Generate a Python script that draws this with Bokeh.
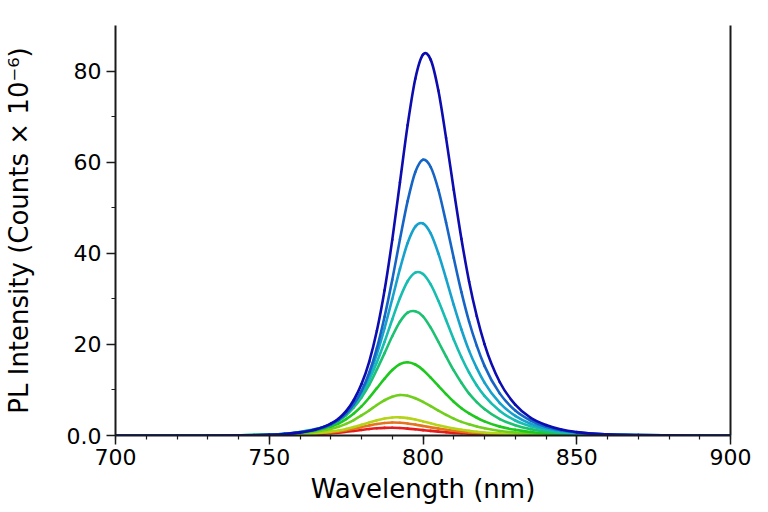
import numpy as np
from bokeh.plotting import figure
from bokeh.models import LinearAxis, FixedTicker, ColumnDataSource
from bokeh.embed import file_html
from bokeh.resources import INLINE

# Wavelength grid (nm) shared by all spectra
wavelength = [700, 720, 730, 740, 745, 750, 755, 760, 765, 770, 772.5, 775, 777.5,
              780, 782.5, 785, 787.5, 790, 792.5, 795, 797.5, 800, 802.5, 805, 807.5,
              810, 812.5, 815, 817.5, 820, 825, 830, 835, 840, 845, 850, 860, 870,
              880, 890, 900]

# PL intensity (counts x 1e-6), weakest to strongest spectrum
pl_red = [0, 0, 0, 0.015, 0.03, 0.05, 0.09, 0.17, 0.3, 0.5, 0.63, 0.81, 1.01,
          1.22, 1.42, 1.58, 1.68, 1.7, 1.64, 1.52, 1.36, 1.19, 1.01, 0.85, 0.71,
          0.58, 0.48, 0.39, 0.32, 0.26, 0.17, 0.11, 0.075, 0.05, 0.03, 0.02, 0.01, 0,
          0, 0, 0]
pl_orange = [0, 0, 0, 0.02, 0.04, 0.07, 0.13, 0.24, 0.42, 0.7, 0.9, 1.16, 1.48,
             1.84, 2.2, 2.52, 2.75, 2.85, 2.8, 2.64, 2.39, 2.1, 1.8, 1.51, 1.26,
             1.04, 0.85, 0.69, 0.56, 0.46, 0.3, 0.2, 0.13, 0.08, 0.055, 0.035, 0.015,
             0.01, 0, 0, 0]
pl_yellow = [0, 0, 0, 0.02, 0.05, 0.09, 0.16, 0.3, 0.5, 0.85, 1.1, 1.45, 1.87,
             2.35, 2.85, 3.33, 3.73, 3.96, 3.98, 3.82, 3.5, 3.1, 2.7, 2.25, 1.87,
             1.54, 1.26, 1.02, 0.83, 0.67, 0.43, 0.28, 0.18, 0.12, 0.08, 0.05, 0.02,
             0.01, 0, 0, 0]
pl_lime = [0, 0, 0.01, 0.03, 0.07, 0.13, 0.25, 0.48, 0.85, 1.45, 1.9, 2.55, 3.4,
           4.4, 5.5, 6.7, 7.75, 8.5, 8.9, 8.75, 8.2, 7.4, 6.45, 5.45, 4.55,
           3.7, 3.0, 2.45, 1.97, 1.6, 1.0, 0.65, 0.42, 0.27, 0.17, 0.11, 0.05,
           0.02, 0.01, 0, 0]
pl_green = [0, 0, 0.01, 0.04, 0.08, 0.16, 0.32, 0.62, 1.1, 1.95, 2.6, 3.6, 4.85,
            6.4, 8.3, 10.4, 12.5, 14.4, 15.7, 16.1, 15.6, 14.4, 12.7, 10.9, 9.1,
            7.4, 6.0, 4.85, 3.9, 3.1, 1.95, 1.25, 0.78, 0.49, 0.31, 0.19, 0.08,
            0.03, 0.01, 0, 0]
pl_spring = [0, 0, 0.01, 0.05, 0.09, 0.19, 0.38, 0.75, 1.35, 2.35, 3.2, 4.45, 6.15,
             8.35, 11.1, 14.5, 18.1, 21.8, 25.0, 27.0, 27.3, 26.2, 23.7, 20.6, 17.4,
             14.3, 11.6, 9.2, 7.35, 5.8, 3.6, 2.25, 1.4, 0.86, 0.53, 0.33, 0.13,
             0.05, 0.02, 0.01, 0]
pl_teal = [0, 0, 0.01, 0.05, 0.1, 0.2, 0.4, 0.78, 1.4, 2.5, 3.4, 4.75, 6.6,
           9.0, 12.2, 16.1, 20.6, 25.5, 30.2, 33.9, 35.8, 35.5, 33.2, 29.6, 25.4,
           21.1, 17.2, 13.8, 11.0, 8.7, 5.4, 3.3, 2.05, 1.26, 0.78, 0.48, 0.18,
           0.07, 0.03, 0.01, 0]
pl_cyan = [0, 0, 0.01, 0.04, 0.08, 0.17, 0.35, 0.72, 1.3, 2.45, 3.45, 4.85, 6.85,
           9.6, 13.2, 17.9, 23.6, 30.0, 36.6, 42.3, 45.9, 46.6, 44.4, 40.0, 34.5,
           28.7, 23.3, 18.6, 14.8, 11.6, 7.1, 4.3, 2.6, 1.6, 0.97, 0.59, 0.22,
           0.08, 0.03, 0.01, 0]
pl_azure = [0, 0, 0.01, 0.03, 0.07, 0.15, 0.31, 0.65, 1.25, 2.4, 3.4, 4.85, 6.9,
            9.8, 13.8, 19.2, 26.1, 34.2, 43.1, 51.5, 57.9, 60.6, 59.0, 54.0, 46.8,
            39.0, 31.5, 25.0, 19.7, 15.3, 9.2, 5.5, 3.3, 1.9, 1.15, 0.68, 0.24,
            0.08, 0.03, 0.01, 0]
pl_navy = [0, 0, 0.01, 0.04, 0.07, 0.15, 0.32, 0.68, 1.3, 2.6, 3.7, 5.35, 7.8,
           11.3, 16.2, 23.0, 31.9, 43.0, 55.6, 68.2, 78.4, 83.7, 82.6, 75.8, 65.4,
           54.0, 43.2, 33.8, 26.2, 20.1, 11.7, 6.8, 3.9, 2.3, 1.3, 0.75, 0.25,
           0.08, 0.03, 0.01, 0]

series = [pl_red, pl_orange, pl_yellow, pl_lime, pl_green,
          pl_spring, pl_teal, pl_cyan, pl_azure, pl_navy]
colors = ["#e41c1c", "#e4731e", "#b6d416", "#6fcf1c", "#1ec81e",
          "#1cc272", "#16bdb0", "#16a2cc", "#1664c6", "#0c0cb0"]

x_ticks = [700, 750, 800, 850, 900]
y_ticks = [0, 20, 40, 60, 80]

FONT = "DejaVu Sans"


def smooth_segments(xs, ys):
    """Cubic Bezier pieces passing through every sample (Hermite tangents)."""
    xs = np.asarray(xs, float)
    ys = np.asarray(ys, float)
    h = np.diff(xs)
    d = np.diff(ys) / h
    m = np.empty_like(ys)
    m[0], m[-1] = d[0], d[-1]
    m[1:-1] = (h[:-1] * d[1:] + h[1:] * d[:-1]) / (h[:-1] + h[1:])
    return dict(
        x0=xs[:-1], y0=ys[:-1], x1=xs[1:], y1=ys[1:],
        cx0=xs[:-1] + h / 3, cy0=ys[:-1] + m[:-1] * h / 3,
        cx1=xs[1:] - h / 3, cy1=ys[1:] - m[1:] * h / 3,
    )


p = figure(width=768, height=512, x_range=(700, 900), y_range=(0, 90.1),
           output_backend="svg", toolbar_location=None,
           min_border_left=115, min_border_right=38,
           min_border_top=25, min_border_bottom=77)

p.background_fill_color = "white"
p.border_fill_color = "white"
p.outline_line_color = None
p.xgrid.visible = False
p.ygrid.visible = False

for ys, col in zip(series, colors):
    src = ColumnDataSource(smooth_segments(wavelength, ys))
    p.bezier(x0="x0", y0="y0", x1="x1", y1="y1", cx0="cx0", cy0="cy0",
             cx1="cx1", cy1="cy1", source=src, line_color=col,
             line_width=2.6, line_cap="round")

axis_color = "#1a1a1a"

xa = p.xaxis[0]
xa.ticker = FixedTicker(ticks=x_ticks,
                        minor_ticks=list(range(700, 901, 10)))
xa.axis_label = "Wavelength (nm)"
ya = p.yaxis[0]
ya.ticker = FixedTicker(ticks=y_ticks, minor_ticks=list(range(0, 81, 10)))
ya.major_label_overrides = {0: "0.0"}
ya.axis_label = "PL Intensity (Counts \u00d7 10\u207b\u2076)"

for ax in (xa, ya):
    ax.axis_line_color = axis_color
    ax.axis_line_width = 2
    ax.major_tick_line_color = axis_color
    ax.major_tick_line_width = 1.5
    ax.minor_tick_line_color = axis_color
    ax.minor_tick_line_width = 1.2
    ax.major_tick_in = 0
    ax.major_tick_out = 9
    ax.minor_tick_in = 0
    ax.minor_tick_out = 4
    ax.major_label_text_font = FONT
    ax.major_label_text_font_size = "22px"
    ax.major_label_text_color = "black"
    ax.axis_label_text_font = FONT
    ax.axis_label_text_font_size = "26px"
    ax.axis_label_text_font_style = "normal"
    ax.axis_label_text_color = "black"

xa.major_label_standoff = 4
xa.axis_label_standoff = 6
ya.major_label_standoff = 5
ya.axis_label_standoff = 30

# plain right-hand frame line
right = LinearAxis(ticker=FixedTicker(ticks=[]), axis_line_color=axis_color,
                   axis_line_width=2, major_tick_line_color=None,
                   minor_tick_line_color=None)
p.add_layout(right, "right")

open("out.html", "w").write(file_html(p, INLINE))
